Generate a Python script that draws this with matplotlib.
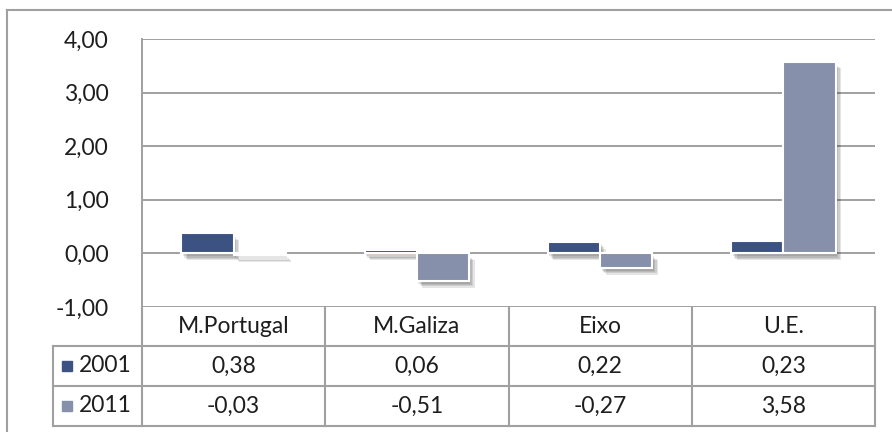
import matplotlib
matplotlib.use("Agg")
import matplotlib.pyplot as plt
import matplotlib.patheffects as pe
from matplotlib.ticker import FuncFormatter
import numpy as np

plt.rcParams['font.family'] = ['Lato', 'DejaVu Sans']

categories = ["M.Portugal", "M.Galiza", "Eixo", "U.E."]
series_names = ["2001", "2011"]
values_2001 = [0.38, 0.06, 0.22, 0.23]
values_2011 = [-0.03, -0.51, -0.27, 3.58]
yticks = [-1, 0, 1, 2, 3, 4]

colors = ["#3b5282", "#8690aa"]
grid_c = "#a0a0a0"
text_c = "#1e1e1e"
fs = 16.5

W, H = 892, 432
fig = plt.figure(figsize=(W / 100, H / 100), dpi=100)

# plot area in pixel coordinates
L, R, T, B = 142, 875, 39, 307
ax = fig.add_axes([L / W, 1 - B / H, (R - L) / W, (B - T) / H])

def comma(v, _=None):
    return f"{v:.2f}".replace(".", ",")

x = np.arange(len(categories))
bw = 0.285
shadow = [pe.SimplePatchShadow(offset=(o, -o - 1), shadow_rgbFace="k", alpha=0.1)
          for o in (1, 2, 3, 4)] + [pe.Normal()]
for i, vals in enumerate([values_2001, values_2011]):
    bars = ax.bar(x + (i - 0.5) * bw, vals, bw, color=colors[i],
                  edgecolor="white", linewidth=1.5, zorder=3)
    for b in bars:
        b.set_path_effects(shadow)

ax.set_xlim(-0.5, len(categories) - 0.5)
ax.set_ylim(-1, 4)
ax.set_yticks(yticks)
ax.yaxis.set_major_formatter(FuncFormatter(comma))
ax.tick_params(axis="y", length=0, pad=24, labelsize=fs, labelcolor=text_c)
ax.tick_params(axis="x", length=0, labelbottom=False)
ax.grid(axis="y", color=grid_c, linewidth=1.4, zorder=0)
for s in ["top", "right", "bottom"]:
    ax.spines[s].set_visible(False)
ax.spines["left"].set_color(grid_c)
ax.spines["left"].set_linewidth(1.4)

# overlay in pixel coordinates for the data table and outer frame
ov = fig.add_axes([0, 0, 1, 1], zorder=-1)
ov.set_xlim(0, W)
ov.set_ylim(H, 0)
ov.axis("off")
ov.patch.set_alpha(0)

lw = 1.5
ov.plot([7, 7], [10, H], color=grid_c, lw=lw)
ov.plot([7, W], [10, 10], color=grid_c, lw=lw)

col_w = (R - L) / len(categories)
col_x = [L + k * col_w for k in range(len(categories) + 1)]
row_y = [B, 346, 386, 426]
lab_l = 53

for cx in col_x:
    ov.plot([cx, cx], [B, row_y[-1]], color=grid_c, lw=lw)
ov.plot([lab_l, lab_l], [row_y[1], row_y[-1]], color=grid_c, lw=lw)
for ry in row_y[1:]:
    ov.plot([lab_l, R], [ry, ry], color=grid_c, lw=lw)

for k, name in enumerate(categories):
    cx = (col_x[k] + col_x[k + 1]) / 2
    ov.text(cx, (row_y[0] + row_y[1]) / 2, name, ha="center", va="center",
            fontsize=fs, color=text_c)

for r, (name, vals) in enumerate(zip(series_names, [values_2001, values_2011])):
    cy = (row_y[r + 1] + row_y[r + 2]) / 2
    ov.add_patch(plt.Rectangle((62, cy - 5), 10, 10, color=colors[r]))
    ov.text(79, cy, name, ha="left", va="center", fontsize=fs, color=text_c)
    for k, v in enumerate(vals):
        cx = (col_x[k] + col_x[k + 1]) / 2
        ov.text(cx, cy, comma(v), ha="center", va="center", fontsize=fs, color=text_c)

fig.savefig("out.png", dpi=100)
